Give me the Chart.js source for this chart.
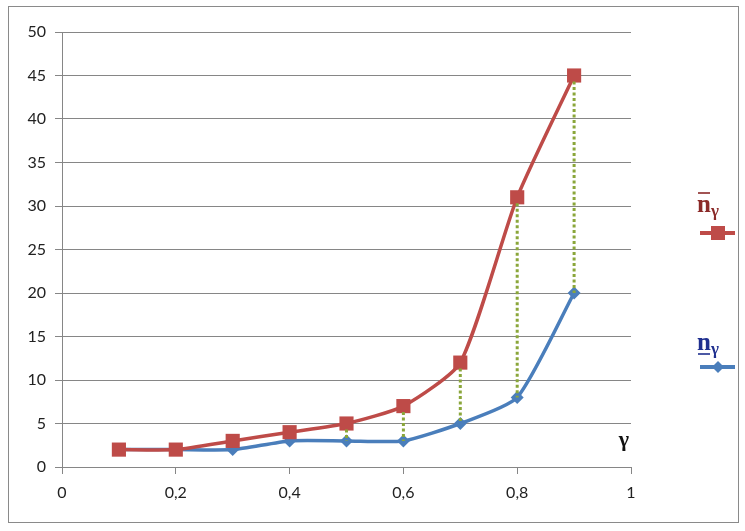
<!DOCTYPE html>
<html>
<head>
<meta charset="utf-8">
<script src="https://cdn.jsdelivr.net/npm/chart.js@4/dist/chart.umd.min.js"></script>
<style>
  html, body { margin: 0; padding: 0; background: #fff; }
  #wrap { position: relative; width: 745px; height: 531px; }
  #frame { position: absolute; left: 8px; top: 6px; width: 731px; height: 517px; border: 1px solid #8a8a8a; box-sizing: border-box; pointer-events: none; }
</style>
</head>
<body>
<div id="wrap">
  <canvas id="chart" width="745" height="531"></canvas>
  <div id="frame"></div>
</div>
<script>
// --- data ---
const gammaValues = [0.1, 0.2, 0.3, 0.4, 0.5, 0.6, 0.7, 0.8, 0.9];
const upperN = [2, 2, 3, 4, 5, 7, 12, 31, 45];   // n̄γ
const lowerN = [2, 2, 2, 3, 3, 3, 5, 8, 20];     // n̲γ
const dottedFrom = [0.5, 0.6, 0.7, 0.8, 0.9];    // where green dotted links are drawn
const xTicks = [0, 0.2, 0.4, 0.6, 0.8, 1];
const yTicks = [0, 5, 10, 15, 20, 25, 30, 35, 40, 45, 50];

const redCol = '#be4b48', blueCol = '#4a7ebb', greenCol = '#8aa63a';

const toPts = arr => gammaValues.map((g, i) => ({ x: g, y: arr[i] }));

// dotted vertical links + gamma label + legend
const extras = {
    id: 'extras',
    afterDatasetsDraw(chart) {
        const { ctx, scales: { x, y } } = chart;
        ctx.save();
        ctx.strokeStyle = greenCol;
        ctx.lineWidth = 3;
        ctx.setLineDash([3, 2.5]);
        dottedFrom.forEach(g => {
            const i = gammaValues.indexOf(g);
            const px = x.getPixelForValue(g);
            ctx.beginPath();
            ctx.moveTo(px, y.getPixelForValue(upperN[i]) + 6);
            ctx.lineTo(px, y.getPixelForValue(lowerN[i]));
            ctx.stroke();
        });
        ctx.setLineDash([]);

        // gamma axis label
        ctx.fillStyle = '#111';
        ctx.font = 'bold 22px "Liberation Serif", serif';
        ctx.textAlign = 'center';
        ctx.textBaseline = 'middle';
        ctx.fillText('γ', 624, 440);

        // legend entries
        const legend = [
            { label: 'n', bar: true, col: '#8b2a28', line: redCol, ty: 206, ly: 233, marker: 'square' },
            { label: 'n', bar: false, col: '#1f2f8f', line: blueCol, ty: 344, ly: 367, marker: 'diamond' }
        ];
        legend.forEach(l => {
            ctx.fillStyle = l.col;
            ctx.font = 'bold 25px "Liberation Serif", serif';
            ctx.textAlign = 'left';
            ctx.fillText(l.label, 697, l.ty);
            ctx.font = 'bold 17px "Liberation Serif", serif';
            ctx.fillText('γ', 711, l.ty + 6);
            ctx.strokeStyle = l.col;
            ctx.lineWidth = 1.6;
            ctx.beginPath();
            if (l.bar) { ctx.moveTo(698, l.ty - 13); ctx.lineTo(710, l.ty - 13); }
            else { ctx.moveTo(698, l.ty + 10); ctx.lineTo(710, l.ty + 10); }
            ctx.stroke();

            ctx.strokeStyle = l.line;
            ctx.lineWidth = 4;
            ctx.beginPath();
            ctx.moveTo(700, l.ly);
            ctx.lineTo(735, l.ly);
            ctx.stroke();
            ctx.fillStyle = l.line;
            if (l.marker === 'square') ctx.fillRect(711, l.ly - 7, 14, 14);
            else {
                ctx.beginPath();
                ctx.moveTo(718, l.ly - 6); ctx.lineTo(724, l.ly); ctx.lineTo(718, l.ly + 6); ctx.lineTo(712, l.ly);
                ctx.closePath(); ctx.fill();
            }
        });
        ctx.restore();
    }
};

new Chart(document.getElementById('chart'), {
    type: 'line',
    data: {
        datasets: [
            {
                label: 'upper', data: toPts(upperN), borderColor: redCol, backgroundColor: redCol,
                borderWidth: 3.5, tension: 0.2, pointStyle: 'rect', pointRadius: 10, pointBorderWidth: 0, order: 1
            },
            {
                label: 'lower', data: toPts(lowerN), borderColor: blueCol, backgroundColor: blueCol,
                borderWidth: 3.5, tension: 0.2, pointStyle: 'rectRot', pointRadius: 6.5, pointBorderWidth: 0, order: 2
            }
        ]
    },
    options: {
        responsive: false,
        animation: false,
        layout: { padding: { left: 0, top: 32, right: 114, bottom: 0 } },
        plugins: { legend: { display: false }, tooltip: { enabled: false } },
        scales: {
            x: {
                type: 'linear', min: 0, max: 1,
                afterBuildTicks: s => { s.ticks = xTicks.map(v => ({ value: v })); },
                afterFit: s => { s.height = 64; },
                border: { color: '#868686', width: 1 },
                grid: { drawOnChartArea: false, drawTicks: true, tickLength: 7, color: '#868686' },
                ticks: {
                    color: '#222', font: { family: 'Lato', size: 16 }, padding: 9,
                    callback: v => String(v).replace('.', ',')
                }
            },
            y: {
                min: 0, max: 50,
                afterBuildTicks: s => { s.ticks = yTicks.map(v => ({ value: v })); },
                afterFit: s => { s.width = 62; },
                border: { color: '#868686', width: 1 },
                grid: { color: '#868686', lineWidth: 1, tickLength: 7 },
                ticks: { color: '#222', font: { family: 'Lato', size: 16 }, padding: 9 }
            }
        }
    },
    plugins: [extras]
});
</script>
</body>
</html>
